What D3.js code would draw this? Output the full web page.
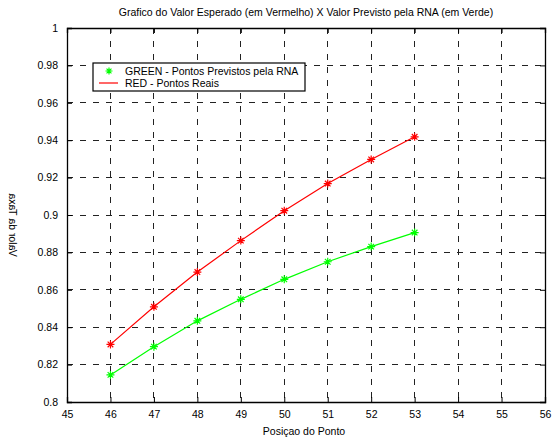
<!DOCTYPE html>
<html>
<head>
<meta charset="utf-8">
<script src="https://cdn.jsdelivr.net/npm/d3@7"></script>
<style>
  body { margin: 0; background: #fff; }
  text { font-family: "Liberation Sans", Arial, sans-serif; }
</style>
</head>
<body>
<svg id="chart" width="552" height="439"></svg>
<script>
const positions = [46, 47, 48, 49, 50, 51, 52, 53];
const realValues = [0.8308, 0.8509, 0.8695, 0.8863, 0.9023, 0.9168, 0.9297, 0.9418];
const predictedValues = [0.8145, 0.8296, 0.8434, 0.8549, 0.8656, 0.8750, 0.8831, 0.8906];
const xTicks = [45, 46, 47, 48, 49, 50, 51, 52, 53, 54, 55, 56];
const yTicks = [0.8, 0.82, 0.84, 0.86, 0.88, 0.9, 0.92, 0.94, 0.96, 0.98, 1];
const titleText = "Grafico do Valor Esperado (em Vermelho) X Valor Previsto pela RNA (em Verde)";
const xLabelText = "Posiçao do Ponto";
const yLabelText = "Valor da Taxa";
const legendLabels = ["GREEN - Pontos Previstos pela RNA", "RED - Pontos Reais"];

const svg = d3.select("#chart");
const L = 67, R = 545, T = 28, B = 402;
const x = d3.scaleLinear().domain([45, 56]).range([L, R]);
const y = d3.scaleLinear().domain([0.8, 1]).range([B, T]);
const fmt = d => String(+d.toFixed(2));

// grid
const grid = svg.append("g");
grid.selectAll("line.v").data(xTicks.slice(1, -1)).join("line")
  .attr("x1", d => x(d)).attr("x2", d => x(d)).attr("y1", T).attr("y2", B)
  .attr("stroke", "#222").attr("stroke-width", 1).attr("stroke-dasharray", "6,7")
  .attr("shape-rendering", "crispEdges");
grid.selectAll("line.h").data(yTicks.slice(1, -1)).join("line")
  .attr("y1", d => y(d)).attr("y2", d => y(d)).attr("x1", L).attr("x2", R)
  .attr("stroke", "#222").attr("stroke-width", 1).attr("stroke-dasharray", "6,7")
  .attr("shape-rendering", "crispEdges");

// axes
const fs = "10.5px";
const xAxis = d3.axisBottom(x).tickValues(xTicks).tickSize(-5).tickPadding(9).tickFormat(d => d);
const gx = svg.append("g").attr("transform", `translate(0,${B})`).call(xAxis);
const xAxisTop = d3.axisTop(x).tickValues(xTicks).tickSize(-5).tickFormat("");
svg.append("g").attr("transform", `translate(0,${T})`).call(xAxisTop);
const yAxis = d3.axisLeft(y).tickValues(yTicks).tickSize(-5).tickPadding(9).tickFormat(fmt);
svg.append("g").attr("transform", `translate(${L},0)`).call(yAxis);
const yAxisR = d3.axisRight(y).tickValues(yTicks).tickSize(-5).tickFormat("");
svg.append("g").attr("transform", `translate(${R},0)`).call(yAxisR);
svg.selectAll(".domain").attr("stroke", "#000").attr("stroke-width", 1.3);
svg.selectAll(".tick line").attr("stroke", "#000");
svg.selectAll(".tick text").attr("font-size", fs).attr("fill", "#000")
  .attr("font-family", "Liberation Sans, Arial, sans-serif");

// series
const line = d3.line().x((d, i) => x(positions[i])).y(d => y(d));
const series = [
  { vals: realValues, color: "#ff0000" },
  { vals: predictedValues, color: "#00ff00" }
];
const starPath = s => `M${-s},0L${s},0M0,${-s}L0,${s}M${-s*0.7},${-s*0.7}L${s*0.7},${s*0.7}M${-s*0.7},${s*0.7}L${s*0.7},${-s*0.7}`;
series.forEach(s => {
  svg.append("path").datum(s.vals).attr("d", line)
    .attr("fill", "none").attr("stroke", s.color).attr("stroke-width", 1.2);
  svg.append("g").selectAll("path").data(s.vals).join("path")
    .attr("transform", (d, i) => `translate(${x(positions[i])},${y(d)})`)
    .attr("d", starPath(4)).attr("stroke", s.color).attr("stroke-width", 1.2).attr("fill", "none");
});

// legend
const lg = svg.append("g");
lg.append("rect").attr("x", 93).attr("y", 63).attr("width", 212).attr("height", 28)
  .attr("fill", "#fff").attr("stroke", "#000").attr("stroke-width", 1.2);
lg.append("path").attr("transform", "translate(109,71)").attr("d", starPath(3.5))
  .attr("stroke", "#00ff00").attr("stroke-width", 1.2);
lg.append("line").attr("x1", 99).attr("x2", 118).attr("y1", 83).attr("y2", 83)
  .attr("stroke", "#ff0000").attr("stroke-width", 1.2);
lg.selectAll("text").data(legendLabels).join("text")
  .attr("x", 125).attr("y", (d, i) => 75 + i * 12).attr("font-size", fs).text(d => d);

// title & labels
svg.append("text").attr("x", 306).attr("y", 16).attr("text-anchor", "middle")
  .attr("font-size", fs).text(titleText);
svg.append("text").attr("x", 304).attr("y", 435).attr("text-anchor", "middle")
  .attr("font-size", fs).text(xLabelText);
svg.append("text").attr("transform", "translate(9,225) rotate(90) scale(-1,1)")
  .attr("text-anchor", "middle").attr("font-size", fs).text(yLabelText);
</script>
</body>
</html>
